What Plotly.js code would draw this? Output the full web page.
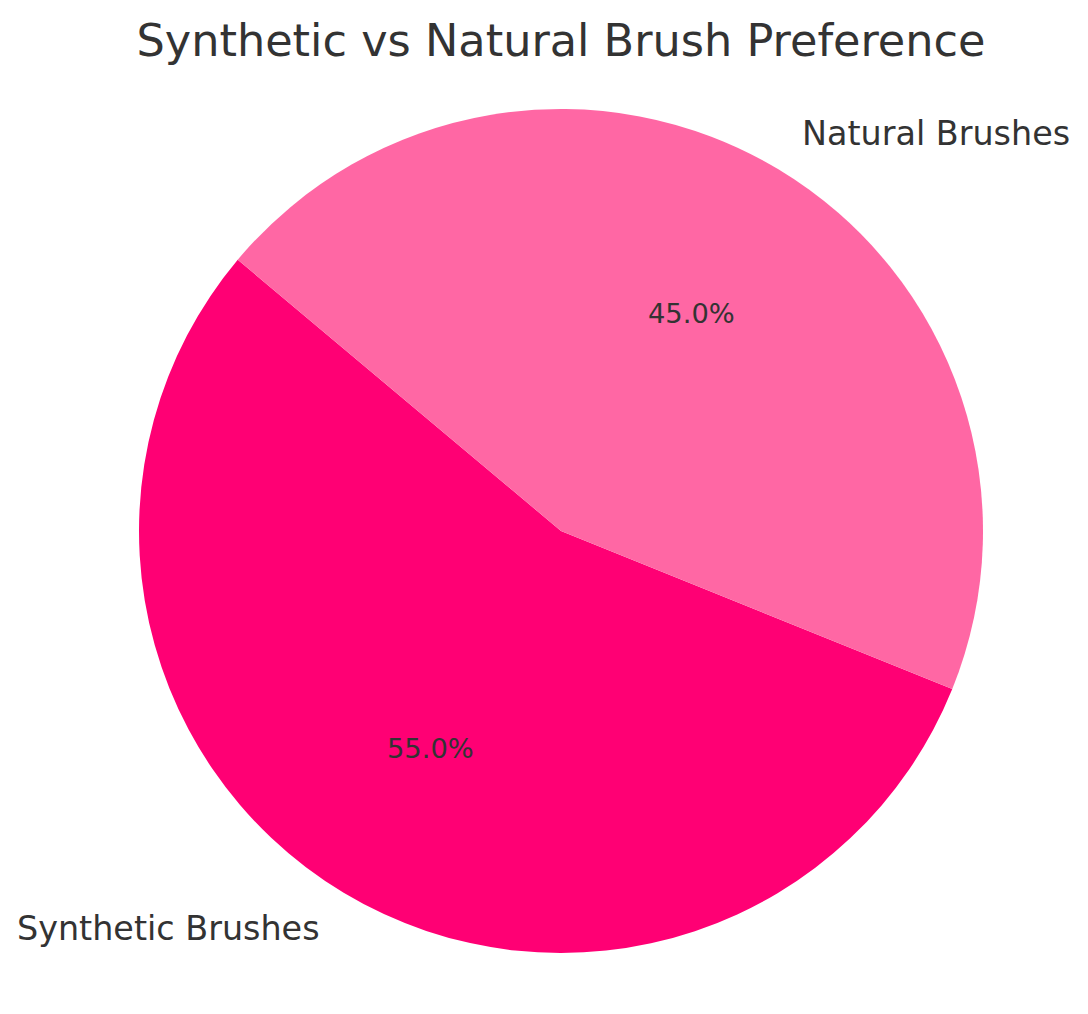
<!DOCTYPE html>
<html>
<head>
<meta charset="utf-8">
<script src="https://cdn.plot.ly/plotly-3.0.1.min.js"></script>
<style>
  html, body { margin: 0; padding: 0; background: #fff; }
  #chart { width: 1088px; height: 1014px; }
</style>
</head>
<body>
<div id="chart"></div>
<script>
'use strict';
/* Brush preference shares */
var labels = ['Synthetic Brushes', 'Natural Brushes'];
var shares = [55, 45];
var colors = ['#FF0074', '#FF67A4'];

var W = 1088, H = 1014;
var cx = 561, cy = 531, R = 422;   // pie centre / radius in px
var startAngle = 140;              // degrees, counter-clockwise

var font = 'DejaVu Sans, sans-serif';
var textColor = '#333333';

var total = shares.reduce(function (a, b) { return a + b; }, 0);

// plotly's counterclockwise pie ends the first slice at `rotation`,
// so rotate by the first slice's span to start it at startAngle
var firstSpan = shares[0] / total * 360;

var pie_data = [
{
  values: shares,
  labels: labels,
  type: 'pie',
  sort: false,
  direction: 'counterclockwise',
  rotation: 90 - (startAngle + firstSpan),
  marker: { colors: colors, line: { width: 0 } },
  textinfo: 'none',
  hoverinfo: 'label+percent',
  domain: {
    x: [(cx - R) / W, (cx + R) / W],
    y: [(H - cy - R) / H, (H - cy + R) / H]
  },
  showlegend: false
}];

/* labels at 1.1 r and percentages at 0.6 r */
var annotations = [];
var acc = startAngle;
shares.forEach(function (v, i) {
  var span = v / total * 360;
  var mid = (acc + span / 2) * Math.PI / 180;
  acc += span;
  var dx = Math.cos(mid), dy = Math.sin(mid);
  annotations.push({
    xref: 'paper', yref: 'paper',
    x: (cx + 1.1 * R * dx) / W, y: (H - cy + 1.1 * R * dy) / H,
    xanchor: dx > 0 ? 'left' : 'right', yanchor: 'middle',
    text: labels[i], showarrow: false,
    font: { family: font, size: 33.4, color: textColor }
  });
  annotations.push({
    xref: 'paper', yref: 'paper',
    x: (cx + 0.6 * R * dx) / W, y: (H - cy + 0.6 * R * dy) / H,
    xanchor: 'center', yanchor: 'middle',
    text: (v / total * 100).toFixed(1) + '%', showarrow: false,
    font: { family: font, size: 27.3, color: textColor }
  });
});

var layout = {
  width: W,
  height: H,
  margin: { l: 0, r: 0, t: 0, b: 0 },
  paper_bgcolor: '#ffffff',
  title: {
    text: 'Synthetic vs Natural Brush Preference',
    font: { family: font, size: 44.6, color: textColor },
    x: cx / W, xanchor: 'center', xref: 'paper',
    y: 1 - 40 / H, yanchor: 'middle', yref: 'paper'
  },
  annotations: annotations
};

Plotly.newPlot('chart', pie_data, layout, { displayModeBar: false });
</script>
</body>
</html>
